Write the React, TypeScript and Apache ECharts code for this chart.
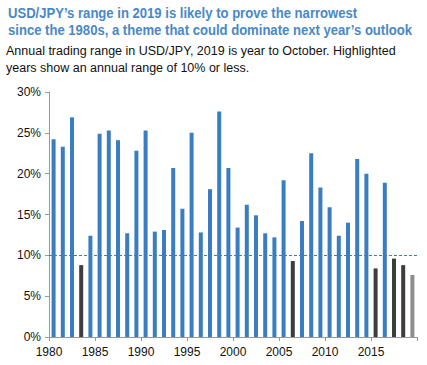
import React, { useEffect, useRef } from "react";
import * as echarts from "echarts";

const years = [
  1980, 1981, 1982, 1983, 1984, 1985, 1986, 1987, 1988, 1989,
  1990, 1991, 1992, 1993, 1994, 1995, 1996, 1997, 1998, 1999,
  2000, 2001, 2002, 2003, 2004, 2005, 2006, 2007, 2008, 2009,
  2010, 2011, 2012, 2013, 2014, 2015, 2016, 2017, 2018, 2019,
];
const ranges = [
  24.2, 23.3, 26.9, 8.8, 12.4, 24.9, 25.3, 24.1, 12.7, 22.8,
  25.3, 12.9, 13.1, 20.7, 15.7, 25.0, 12.8, 18.1, 27.6, 20.7,
  13.4, 16.2, 14.9, 12.7, 12.2, 19.2, 9.3, 14.2, 22.5, 18.3,
  15.9, 12.4, 14.0, 21.8, 20.0, 8.4, 18.9, 9.6, 8.8, 7.6,
];
const threshold = 10;
const partialYear = 2019;
const titleLines = [
  "USD/JPY’s range in 2019 is likely to prove the narrowest",
  "since the 1980s, a theme that could dominate next year’s outlook",
];

const BLUE = "#3a7dc1";
const DARK = "#3d3d3d";
const GREY = "#8e8e8e";

export default function App() {
  const ref = useRef<HTMLDivElement>(null);
  useEffect(() => {
    if (!ref.current) return;
    document.body.style.margin = "0";
    const chart = echarts.init(ref.current, undefined, { renderer: "svg" });
    const data = years.map((y, i) => ({
      value: [y + 0.5, ranges[i]],
      itemStyle: {
        color:
          y === partialYear ? GREY : ranges[i] <= threshold ? DARK : BLUE,
      },
    }));
    chart.setOption({
      animation: false,
      textStyle: { fontFamily: "Liberation Sans, Arial, sans-serif" },
      graphic: titleLines.map((t, i) => ({
        type: "text",
        x: 8,
        y: 5 + i * 17,
        originX: 0,
        originY: 0,
        scaleX: 0.845,
        style: {
          x: 0,
          y: 0,
          text: t,
          fill: "#4a88c7",
          fontSize: 15.5,
          fontWeight: "bold",
          fontFamily: "Liberation Sans, Arial, sans-serif",
        },
      })),
      title: [
        {
          text: "Annual trading range in USD/JPY, 2019 is year to October. Highlighted\nyears show an annual range of 10% or less.",
          left: 6,
          top: 42,
          padding: 0,
          textStyle: {
            color: "#111",
            fontSize: 12.5,
            fontWeight: "normal",
            lineHeight: 17,
            fontFamily: "Liberation Sans, Arial, sans-serif",
          },
        },
      ],
      grid: { left: 49, right: 10, top: 92, bottom: 28 },
      xAxis: {
        type: "value",
        min: 1980,
        max: 2020,
        interval: 5,
        axisLine: { show: true, lineStyle: { color: "#999" } },
        axisTick: { show: true, length: 4, lineStyle: { color: "#999" } },
        splitLine: { show: false },
        axisLabel: {
          color: "#111",
          fontSize: 12,
          margin: 9,
          formatter: (v: number) => (v === 2020 ? "" : String(v)),
        },
      },
      yAxis: {
        type: "value",
        min: 0,
        max: 30,
        interval: 5,
        axisLine: { show: true, lineStyle: { color: "#999" } },
        axisTick: { show: true, length: 4, lineStyle: { color: "#999" } },
        splitLine: { show: false },
        axisLabel: {
          color: "#111",
          fontSize: 12,
          margin: 8,
          formatter: (v: number) => v + "%",
        },
      },
      series: [
        {
          type: "bar",
          data,
          barWidth: 4,
          markLine: {
            silent: true,
            symbol: "none",
            label: { show: false },
            lineStyle: { color: "#3a7dc1", type: [3, 2], width: 1 },
            data: [{ yAxis: threshold }],
          },
        },
      ],
    });
    return () => chart.dispose();
  }, []);
  return <div ref={ref} style={{ width: 427, height: 365 }} />;
}
